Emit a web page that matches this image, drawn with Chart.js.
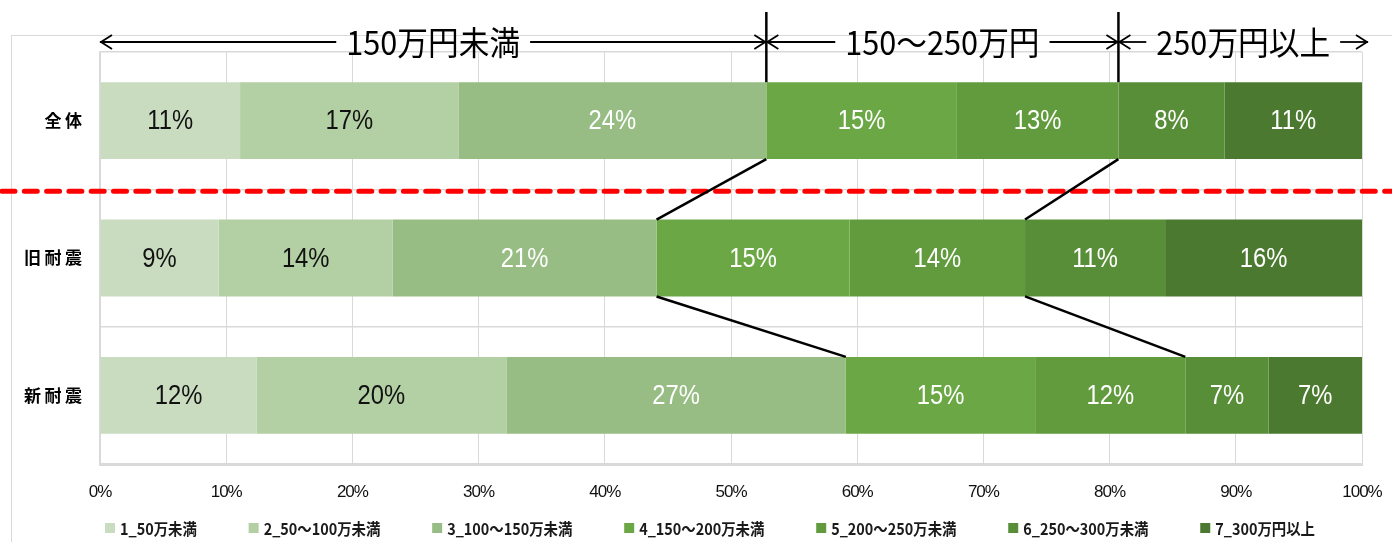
<!DOCTYPE html>
<html><head><meta charset="utf-8">
<script src="https://cdn.jsdelivr.net/npm/chart.js@4.4.1/dist/chart.umd.min.js"></script>
<style>html,body{margin:0;padding:0;background:#fff;overflow:hidden}</style>
</head><body>
<canvas id="c" width="1392" height="542"></canvas>
<script>
// ---- data ----
const categories = ['全体', '旧耐震', '新耐震'];
const seriesNames = ['1_50万未満', '2_50～100万未満', '3_100～150万未満', '4_150～200万未満', '5_200～250万未満', '6_250～300万未満', '7_300万円以上'];
const s1 = [11.1, 9.4, 12.4];
const s2 = [17.3, 13.8, 19.8];
const s3 = [24.4, 20.9, 26.9];
const s4 = [15.1, 15.3, 15.0];
const s5 = [12.8, 13.9, 11.9];
const s6 = [8.4, 11.1, 6.6];
const s7 = [10.9, 15.6, 7.4];
const seriesValues = [s1, s2, s3, s4, s5, s6, s7];
const seriesColors = ['#c9dcc0', '#b3cfa4', '#97bd84', '#6ba845', '#629b3d', '#598e39', '#4b792f'];
const labelColors = ['#111111', '#111111', '#ffffff', '#ffffff', '#ffffff', '#ffffff', '#ffffff'];
const groupLabels = ['150万円未満', '150～250万円', '250万円以上'];
const groupEndSeries = [2, 4];      // series whose end marks a group boundary (全体 bar)
const xTickValues = [0, 10, 20, 30, 40, 50, 60, 70, 80, 90, 100];

const CJK = '"Noto Sans CJK JP"';
const LEGEND = { cx: 710, cy: 528, span: 1210, box: 10, textGap: 5, font: 'bold 16px ' + CJK, scaleX: 0.9 };

function wrapLabelSpacing(scale, spacing) {
  if (scale._lsWrapped === spacing) return;
  const orig = scale.constructor.prototype.drawLabels;
  scale.drawLabels = function (area) {
    const c = this.ctx;
    c.save();
    c.letterSpacing = spacing;
    orig.call(this, area);
    c.restore();
  };
  scale._lsWrapped = spacing;
}

const annot = {
  id: 'annot',
  beforeDraw(chart) {
    wrapLabelSpacing(chart.scales.y, '3.5px');
    wrapLabelSpacing(chart.scales.x, '-1px');
    const ctx = chart.ctx;
    ctx.save();
    ctx.fillStyle = '#fff';
    ctx.fillRect(0, 0, chart.width, chart.height);
    ctx.strokeStyle = '#d9d9d9';
    ctx.lineWidth = 1;
    ctx.strokeRect(11.5, 35.5, chart.width + 20, chart.height + 20);
    ctx.restore();
  },
  afterDatasetsDraw(chart) {
    const ctx = chart.ctx, xs = chart.scales.x, ys = chart.scales.y, ca = chart.chartArea;
    const el = (di, ci) => chart.getDatasetMeta(di).data[ci];
    const line = (x1, y1, x2, y2) => { ctx.beginPath(); ctx.moveTo(x1, y1); ctx.lineTo(x2, y2); ctx.stroke(); };

    // red dashed divider between 全体 and the others
    const yDiv = (ys.getPixelForValue(0) + ys.getPixelForValue(1)) / 2 + 2;
    ctx.save();
    ctx.strokeStyle = '#ff0000';
    ctx.lineWidth = 5;
    ctx.lineCap = 'round';
    ctx.setLineDash([13, 9.3]);
    line(2, yDiv, chart.width, yDiv);
    ctx.restore();

    // connectors
    ctx.save();
    ctx.strokeStyle = '#000';
    ctx.lineWidth = 2.5;
    groupEndSeries.forEach(di => {
      for (let ci = 0; ci < categories.length - 1; ci++) {
        const a = el(di, ci), b = el(di, ci + 1);
        line(a.x, a.y + a.height / 2, b.x, b.y - b.height / 2);
      }
    });
    ctx.restore();

    // data labels
    ctx.save();
    ctx.font = '28px "Liberation Sans"';
    ctx.textAlign = 'center';
    ctx.textBaseline = 'middle';
    chart.data.datasets.forEach((ds, di) => {
      chart.getDatasetMeta(di).data.forEach((e, i) => {
        const cx = (e.x + e.base) / 2, cy = e.y + 1;
        ctx.fillStyle = labelColors[di];
        ctx.save();
        ctx.translate(cx, cy);
        ctx.scale(0.85, 1);
        ctx.fillText(Math.round(ds.data[i]) + '%', 0, 0);
        ctx.restore();
      });
    });
    ctx.restore();

    // top group arrows
    const top0 = el(0, 0);
    const barTop = top0.y - top0.height / 2;
    const yA = ca.top - 10;
    const bounds = [xs.getPixelForValue(0)];
    groupEndSeries.forEach(di => bounds.push(el(di, 0).x));
    bounds.push(xs.getPixelForValue(100) + 6);

    ctx.save();
    ctx.strokeStyle = '#000';
    ctx.fillStyle = '#000';
    ctx.lineWidth = 2.5;
    groupEndSeries.forEach(di => { const x = el(di, 0).x; line(x, ca.top - 40, x, barTop); });
    ctx.lineWidth = 1.8;
    ctx.font = '33px ' + CJK;
    ctx.textAlign = 'center';
    ctx.textBaseline = 'middle';
    const sx = 0.93;
    for (let g = 0; g < groupLabels.length; g++) {
      const x1 = bounds[g], x2 = bounds[g + 1];
      const cx = (x1 + x2) / 2;
      const w = ctx.measureText(groupLabels[g]).width * sx;
      const gap = 10;
      line(x1, yA, cx - w / 2 - gap, yA);
      line(cx + w / 2 + gap, yA, x2, yA);
      ctx.beginPath();
      ctx.moveTo(x1 + 12, yA - 7); ctx.lineTo(x1 + 1, yA); ctx.lineTo(x1 + 12, yA + 7);
      ctx.moveTo(x2 - 12, yA - 7); ctx.lineTo(x2 - 1, yA); ctx.lineTo(x2 - 12, yA + 7);
      ctx.stroke();
      ctx.save();
      ctx.translate(cx, yA);
      ctx.scale(sx, 1);
      ctx.fillText(groupLabels[g], 0, 0);
      ctx.restore();
    }
    ctx.restore();
  },
  afterDraw(chart) {
    // legend (series names + colours), laid out in one row
    const ctx = chart.ctx;
    ctx.save();
    ctx.font = LEGEND.font;
    ctx.textBaseline = 'middle';
    ctx.textAlign = 'left';
    const widths = chart.data.datasets.map(ds => ctx.measureText(ds.label).width * LEGEND.scaleX);
    const itemW = widths.map(w => LEGEND.box + LEGEND.textGap + w);
    const sum = itemW.reduce((a, b) => a + b, 0);
    const gap = (LEGEND.span - sum) / (itemW.length - 1);
    let x = LEGEND.cx - LEGEND.span / 2;
    chart.data.datasets.forEach((ds, i) => {
      ctx.fillStyle = ds.backgroundColor;
      ctx.fillRect(x, LEGEND.cy - LEGEND.box / 2, LEGEND.box, LEGEND.box);
      ctx.fillStyle = '#1a1a1a';
      ctx.save();
      ctx.translate(x + LEGEND.box + LEGEND.textGap, LEGEND.cy + 1);
      ctx.scale(LEGEND.scaleX, 1);
      ctx.fillText(ds.label, 0, 0);
      ctx.restore();
      x += itemW[i] + gap;
    });
    ctx.restore();
  }
};

new Chart(document.getElementById('c'), {
  type: 'bar',
  data: {
    labels: categories,
    datasets: seriesValues.map((vals, i) => ({
      label: seriesNames[i],
      data: vals,
      backgroundColor: seriesColors[i],
      borderWidth: 0,
      categoryPercentage: 1,
      barPercentage: 0.56
    }))
  },
  options: {
    indexAxis: 'y',
    responsive: false,
    animation: false,
    devicePixelRatio: 1,
    layout: { padding: { top: 52, right: 30, bottom: 38, left: 0 } },
    scales: {
      x: {
        stacked: true,
        min: 0, max: 100,
        afterBuildTicks: s => { s.ticks = xTickValues.map(v => ({ value: v })); },
        afterFit: s => { s.height = 40; },
        grid: { color: '#d9d9d9', lineWidth: 1, drawTicks: true, tickLength: 15, tickColor: 'rgba(0,0,0,0)' },
        border: { color: '#d9d9d9', width: 3 },
        ticks: {
          padding: 3,
          color: '#111',
          font: { family: '"Liberation Sans"', size: 17 },
          callback: v => v + '%'
        }
      },
      y: {
        stacked: true,
        afterFit: s => { s.width = 100; },
        grid: { color: '#d9d9d9', lineWidth: 1.5, drawTicks: false },
        border: { color: '#d9d9d9', width: 1.5 },
        ticks: {
          padding: 14.5,
          color: '#000',
          font: { family: CJK, size: 17, weight: 'bold' }
        }
      }
    },
    plugins: {
      legend: { display: false },
      tooltip: { enabled: false }
    }
  },
  plugins: [annot]
});
</script>
</body></html>
